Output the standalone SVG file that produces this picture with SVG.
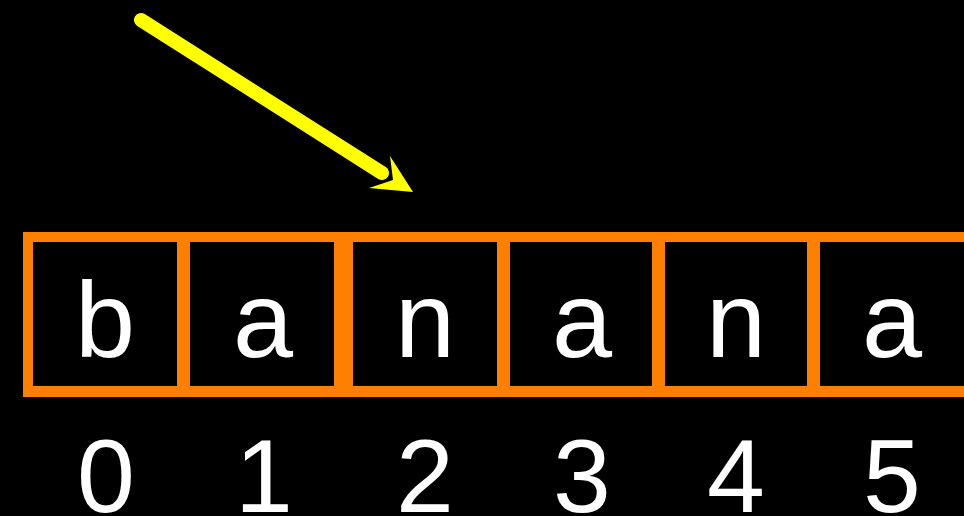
<svg xmlns="http://www.w3.org/2000/svg" width="964" height="516" viewBox="0 0 964 516">
  <style>
    .cell { fill: #000000; stroke: #FF8000; stroke-width: 10; }
    .ch { font-family: "Liberation Sans", Arial, sans-serif; font-size: 108px; fill: #FFFFFF; text-anchor: middle; }
    .idx { font-family: "Liberation Sans", Arial, sans-serif; font-size: 104px; fill: #FFFFFF; text-anchor: middle; }
    .conn { stroke: #FFFF00; stroke-width: 14; stroke-linecap: round; fill: none; }
  </style>
  <rect x="0" y="0" width="964" height="516" fill="#000000"/>
  <rect id="frame" x="23" y="232" width="950" height="165" fill="#FF8000"/>
  <g id="cell0">
    <rect class="cell" x="28" y="237" width="154" height="154"/>
    <text class="ch" x="105" y="357">b</text>
    <text class="idx" x="106" y="512">0</text>
  </g>
  <g id="cell1">
    <rect class="cell" x="185" y="237" width="154" height="154"/>
    <text class="ch" x="263" y="357">a</text>
    <text class="idx" x="264" y="512">1</text>
  </g>
  <g id="cell2">
    <rect class="cell" x="348" y="237" width="154" height="154"/>
    <text class="ch" x="425" y="357">n</text>
    <text class="idx" x="425" y="512">2</text>
  </g>
  <g id="cell3">
    <rect class="cell" x="505" y="237" width="152" height="154"/>
    <text class="ch" x="582" y="357">a</text>
    <text class="idx" x="582" y="512">3</text>
  </g>
  <g id="cell4">
    <rect class="cell" x="660" y="237" width="152" height="154"/>
    <text class="ch" x="736" y="357">n</text>
    <text class="idx" x="736" y="512">4</text>
  </g>
  <g id="cell5">
    <rect class="cell" x="815" y="237" width="160" height="154"/>
    <text class="ch" x="892" y="357">a</text>
    <text class="idx" x="892" y="512">5</text>
  </g>
  <g id="connectors">
    <line class="conn" x1="141" y1="20" x2="382" y2="173"/>
    <polygon points="413,192 390,156 393,180 369,188" fill="#FFFF00"/>
  </g>
</svg>
